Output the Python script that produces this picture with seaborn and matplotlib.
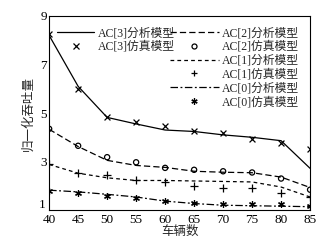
import matplotlib
matplotlib.use("Agg")
import matplotlib.pyplot as plt
import seaborn as sns
import pandas as pd
from matplotlib.lines import Line2D

vehicles = [40, 45, 50, 55, 60, 65, 70, 75, 80, 85]
ac3_ana = [8.2, 6.1, 4.82, 4.55, 4.3, 4.24, 4.1, 4.0, 3.86, 2.72]
ac3_sim = [8.25, 6.0, 4.85, 4.65, 4.45, 4.24, 4.17, 3.93, 3.76, 3.52]
ac2_ana = [4.33, 3.62, 3.05, 2.84, 2.76, 2.6, 2.56, 2.54, 2.36, 1.93]
ac2_sim = [4.35, 3.65, 3.18, 2.97, 2.74, 2.66, 2.6, 2.55, 2.3, 1.84]
ac1_ana = [2.88, 2.52, 2.33, 2.22, 2.22, 2.2, 2.18, 2.16, 1.95, 1.54]
ac1_sim = [2.88, 2.52, 2.43, 2.25, 2.16, 1.98, 1.91, 1.89, 1.71, 1.54]
ac0_ana = [1.82, 1.75, 1.65, 1.54, 1.37, 1.27, 1.2, 1.18, 1.16, 1.14]
ac0_sim = [1.8, 1.7, 1.58, 1.5, 1.38, 1.31, 1.24, 1.24, 1.24, 1.16]

labels_ana = ["AC[3]分析模型", "AC[2]分析模型", "AC[1]分析模型", "AC[0]分析模型"]
labels_sim = ["AC[3]仿真模型", "AC[2]仿真模型", "AC[1]仿真模型", "AC[0]仿真模型"]
yticks = [1, 3, 5, 7, 9]
xticks = vehicles

sns.set_theme(style="white")
fam = ["Liberation Serif", "Noto Sans CJK SC", "DejaVu Sans"]
plt.rcParams["font.family"] = fam
plt.rcParams["axes.unicode_minus"] = False

fig = plt.figure(figsize=(3.32, 2.46), dpi=100)
ax = fig.add_axes([0.148, 0.146, 0.786, 0.789])

ana = [ac3_ana, ac2_ana, ac1_ana, ac0_ana]
sim = [ac3_sim, ac2_sim, ac1_sim, ac0_sim]
dashes = ["-", (0, (5, 2.5)), (0, (3, 2.5)), (0, (6, 2, 1.5, 2))]
markers = ["x", "o", "+", (6, 2, 0)]
msizes = [18, 14, 26, 18]

handles_ana = []
handles_sim = []
for i in range(4):
    df = pd.DataFrame({"x": vehicles, "a": ana[i], "s": sim[i]})
    sns.lineplot(data=df, x="x", y="a", ax=ax, color="black", linewidth=0.9,
                 linestyle=dashes[i])
    if markers[i] == "o":
        sns.scatterplot(data=df, x="x", y="s", ax=ax, marker="o", s=msizes[i],
                        facecolor="none", edgecolor="black", linewidth=0.9)
    else:
        sns.scatterplot(data=df, x="x", y="s", ax=ax, marker=markers[i], s=msizes[i],
                        color="black", linewidth=0.9)
    handles_ana.append(Line2D([], [], color="black", linewidth=0.9, linestyle=dashes[i]))
    if markers[i] == "o":
        handles_sim.append(Line2D([], [], linestyle="none", marker="o", markersize=3.6,
                                  markerfacecolor="none", markeredgecolor="black",
                                  markeredgewidth=0.9))
    else:
        handles_sim.append(Line2D([], [], linestyle="none", marker=markers[i],
                                  markersize=4.5, color="black", markeredgewidth=0.9))

ax.set_xlim(40, 85)
ax.set_ylim(1, 9)
ax.set_xticks(xticks)
ax.set_yticks(yticks)
# lowest y label drawn separately, slightly raised as in the reference
ax.set_yticklabels([""] + [str(v) for v in yticks[1:]])
ax.tick_params(axis="both", direction="in", length=2.5, width=0.6, labelsize=9.5,
               pad=1, colors="black")
ax.tick_params(axis="x", pad=2.5)
ax.tick_params(axis="y", pad=1.5)
ax.annotate(str(yticks[0]), xy=(0, yticks[0]), xycoords=ax.get_yaxis_transform(),
            xytext=(-2.5, 3.5), textcoords="offset points", ha="right", va="center",
            fontsize=9.5, color="black")
for sp in ax.spines.values():
    sp.set_color("black")
    sp.set_linewidth(0.8)
ax.set_xlabel("车辆数", fontsize=9, labelpad=0)
ax.set_ylabel("归一化吞吐量", fontsize=9, labelpad=4)

leg1 = ax.legend([handles_ana[0], handles_sim[0]], [labels_ana[0], labels_sim[0]],
                 loc="upper left", bbox_to_anchor=(0.0, 0.985), frameon=False,
                 fontsize=8.5, handlelength=3.1, handletextpad=0.3,
                 labelspacing=0.15, borderpad=0.2)
ax.add_artist(leg1)
h2 = [handles_ana[1], handles_sim[1], handles_ana[2], handles_sim[2],
      handles_ana[3], handles_sim[3]]
l2 = [labels_ana[1], labels_sim[1], labels_ana[2], labels_sim[2],
      labels_ana[3], labels_sim[3]]
ax.legend(h2, l2, loc="upper right", bbox_to_anchor=(0.99, 0.985), frameon=False,
          fontsize=8.5, handlelength=4.1, handletextpad=0.3,
          labelspacing=0.15, borderpad=0.2)

fig.savefig("out.png", dpi=100)
